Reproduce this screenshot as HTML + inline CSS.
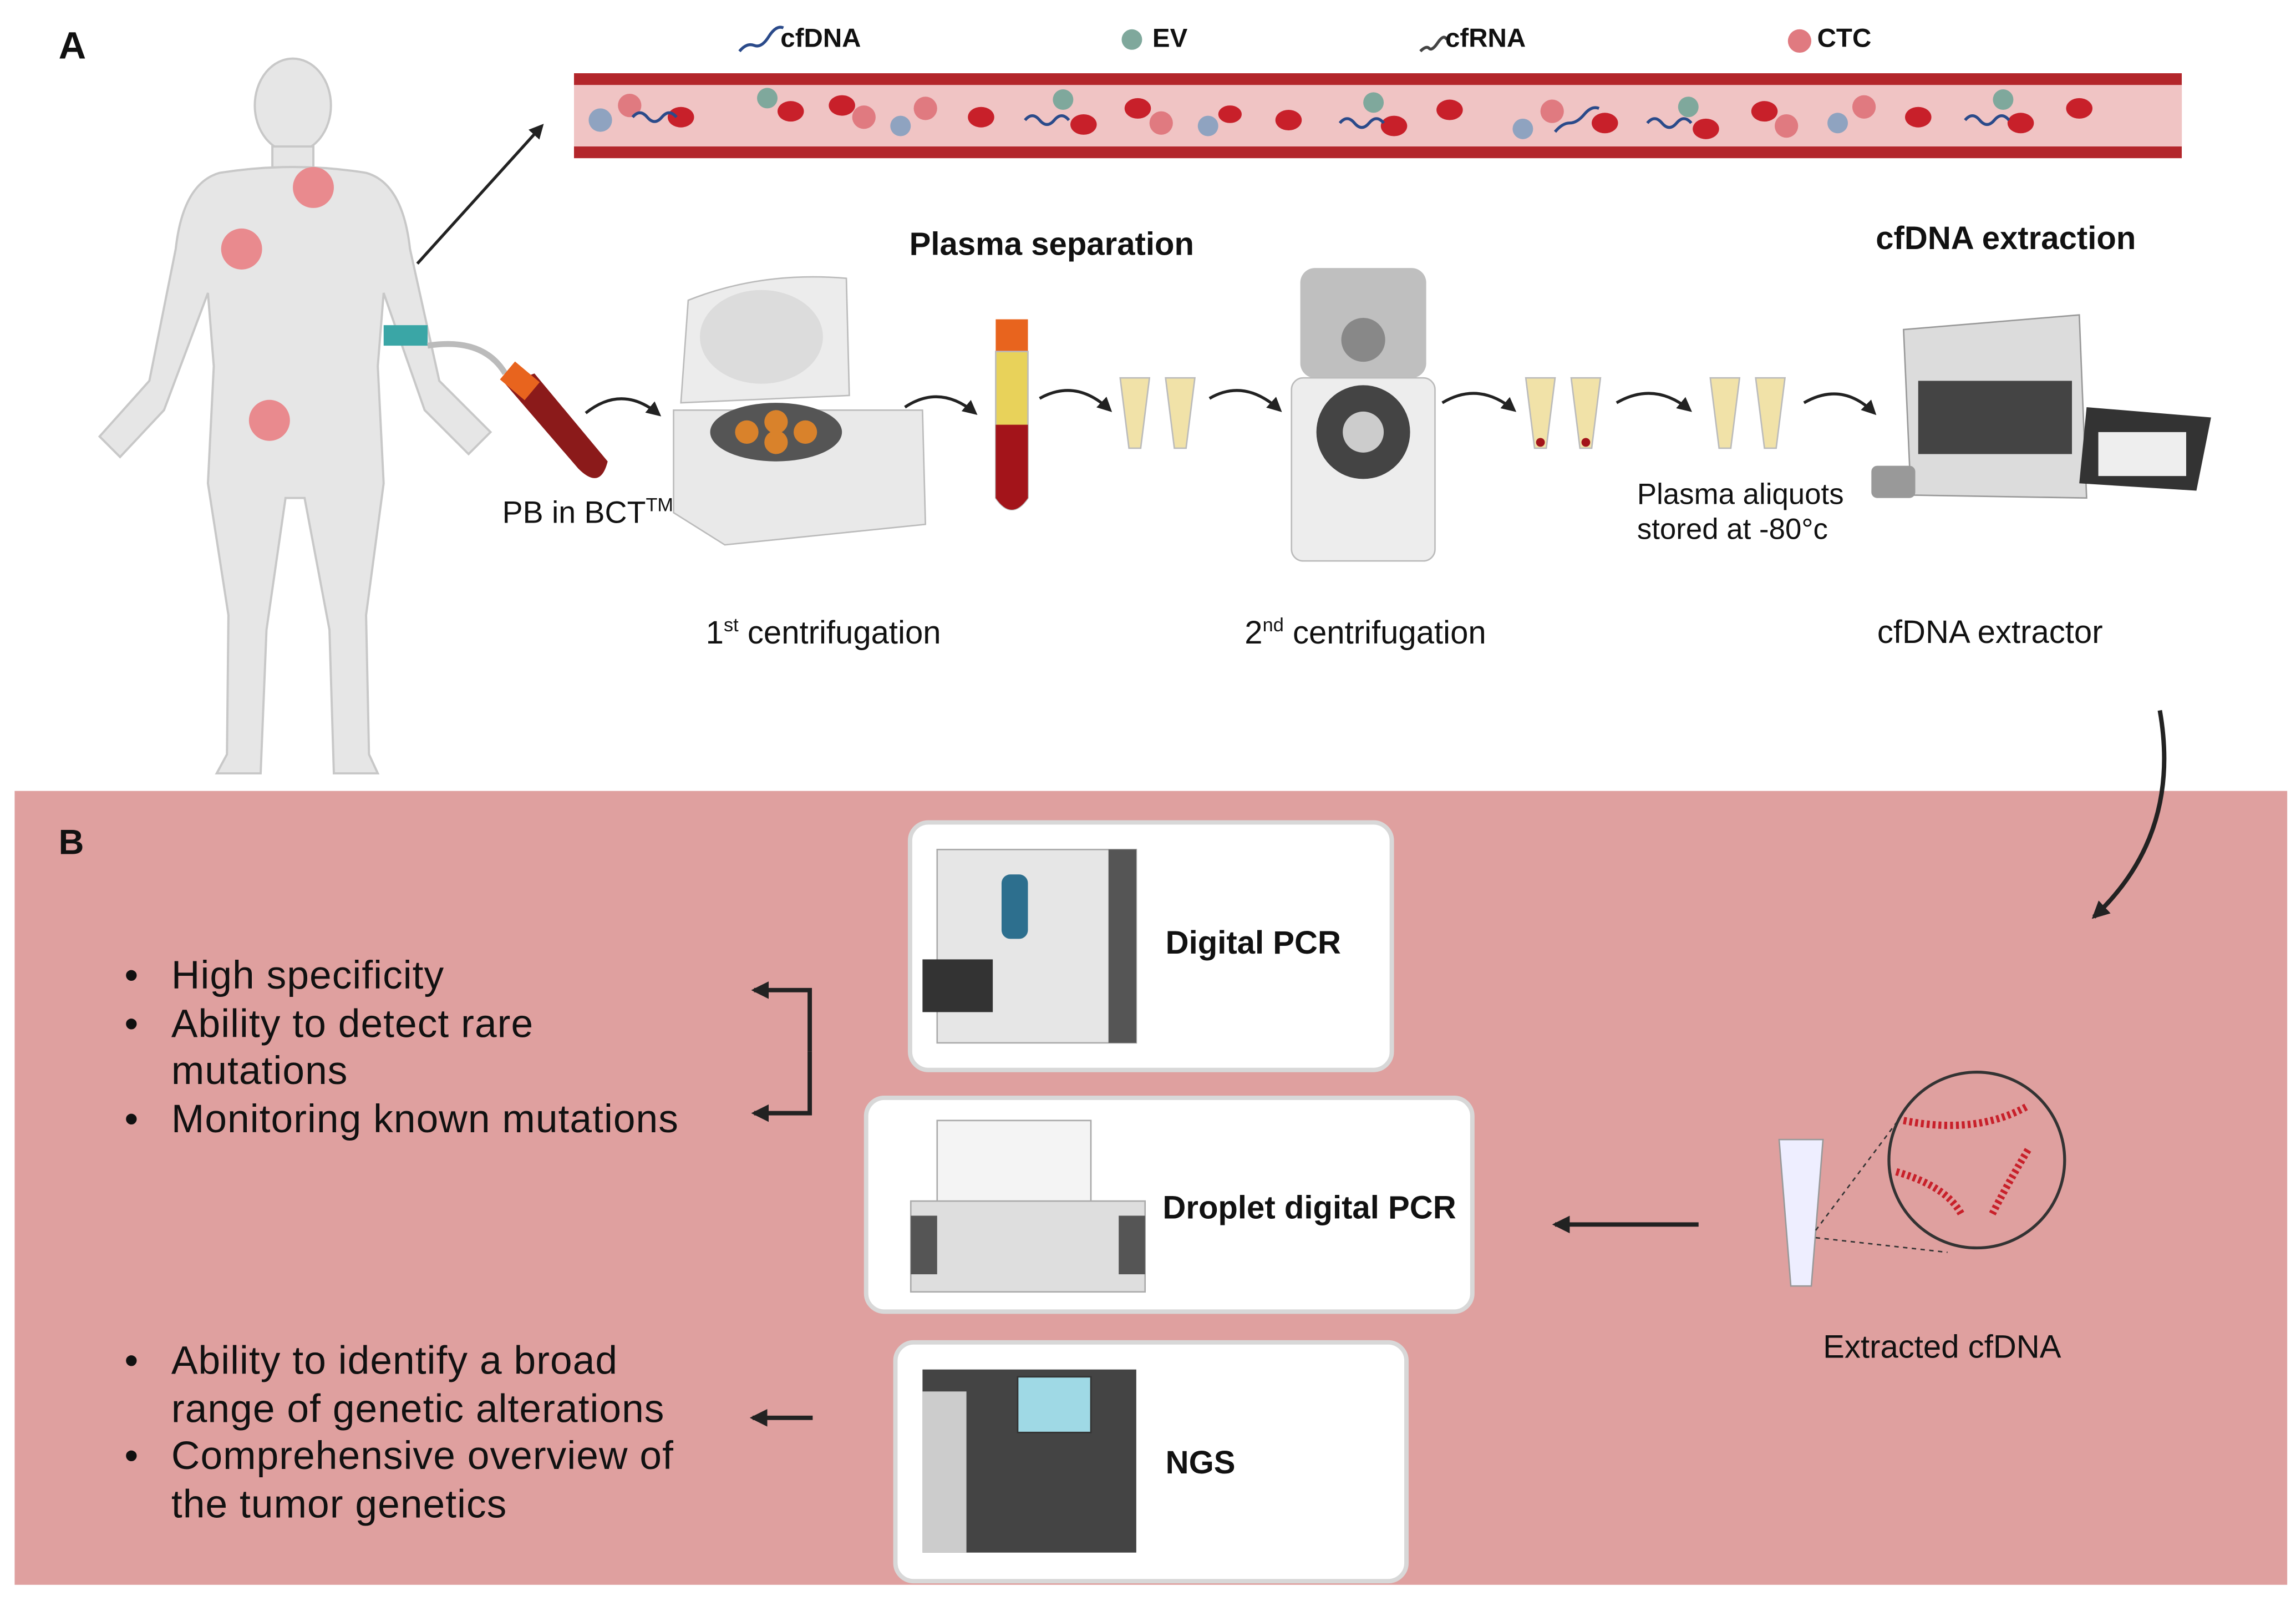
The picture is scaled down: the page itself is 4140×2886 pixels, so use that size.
<!DOCTYPE html>
<html><head><meta charset="utf-8"><style>
body{margin:0;background:#fff;width:4140px;height:2886px;overflow:hidden}
#w{position:absolute;left:0;top:0;width:1568px;height:1093px;transform:scale(2.6403);transform-origin:0 0;font-family:"Liberation Sans",sans-serif;color:#111}
.t{position:absolute;white-space:nowrap}
.b{font-weight:bold}
.box{position:absolute;background:#fff;border:3px solid #d8d8d8;border-radius:14px}
.bl{position:absolute;font-size:27px;line-height:32.5px;letter-spacing:0.4px;white-space:nowrap}
.bl div{position:relative;padding-left:32px}
.bl span{position:absolute;left:0}
</style></head><body><div id="w">
<div style="position:absolute;left:10px;top:540px;width:1552px;height:542px;background:#dfa09f"></div>
<div class="t b" style="left:40px;top:16px;font-size:26px">A</div>
<div class="t b" style="left:40px;top:562px;font-size:24px">B</div>
<svg width="1568" height="1093" style="position:absolute;left:0;top:0">
<defs><marker id="ar" markerUnits="userSpaceOnUse" markerWidth="14" markerHeight="14" refX="10" refY="7" orient="auto"><path d="M0,1L12,7L0,13z" fill="#222"/></marker>
<marker id="as" markerUnits="userSpaceOnUse" markerWidth="12" markerHeight="12" refX="8" refY="6" orient="auto"><path d="M0,1L10,6L0,11z" fill="#222"/></marker></defs>
<rect x="392" y="50" width="1098" height="58" fill="#b3262b"/>
<rect x="392" y="58" width="1098" height="42" fill="#f0c4c4"/>
<g fill="#c8202a">
<ellipse cx="465" cy="80" rx="9" ry="7"/><ellipse cx="540" cy="76" rx="9" ry="7"/><ellipse cx="575" cy="72" rx="9" ry="7"/><ellipse cx="670" cy="80" rx="9" ry="7"/><ellipse cx="740" cy="85" rx="9" ry="7"/><ellipse cx="777" cy="74" rx="9" ry="7"/><ellipse cx="880" cy="82" rx="9" ry="7"/><ellipse cx="952" cy="86" rx="9" ry="7"/><ellipse cx="990" cy="75" rx="9" ry="7"/><ellipse cx="1096" cy="84" rx="9" ry="7"/><ellipse cx="1165" cy="88" rx="9" ry="7"/><ellipse cx="1205" cy="76" rx="9" ry="7"/><ellipse cx="1310" cy="80" rx="9" ry="7"/><ellipse cx="1380" cy="84" rx="9" ry="7"/><ellipse cx="1420" cy="74" rx="9" ry="7"/><ellipse cx="840" cy="78" rx="8" ry="6"/>
</g>
<g fill="#e07a80"><circle cx="430" cy="72" r="8"/><circle cx="590" cy="80" r="8"/><circle cx="632" cy="74" r="8"/><circle cx="793" cy="84" r="8"/><circle cx="1060" cy="76" r="8"/><circle cx="1220" cy="86" r="8"/><circle cx="1273" cy="73" r="8"/></g>
<g fill="#8fa3c0"><circle cx="410" cy="82" r="8"/><circle cx="615" cy="86" r="7"/><circle cx="825" cy="86" r="7"/><circle cx="1040" cy="88" r="7"/><circle cx="1255" cy="84" r="7"/></g>
<g fill="#7fa89c"><circle cx="524" cy="67" r="7"/><circle cx="726" cy="68" r="7"/><circle cx="938" cy="70" r="7"/><circle cx="1153" cy="73" r="7"/><circle cx="1368" cy="68" r="7"/><circle cx="773" cy="27" r="7"/></g>
<g stroke="#2a4a8a" stroke-width="2" fill="none">
<path d="M432,80 q5,-6 10,0 t10,0 t10,0"/><path d="M700,82 q5,-6 10,0 t10,0 t10,0"/><path d="M915,84 q5,-6 10,0 t10,0 t10,0"/><path d="M1125,84 q5,-6 10,0 t10,0 t10,0"/><path d="M1342,82 q5,-6 10,0 t10,0 t10,0"/><path d="M505,35 q5,-6 10,-4 t10,-6 t10,-6"/><path d="M1062,90 q5,-6 10,-6 t10,-6 t10,-4"/>
<path d="M970,35 q4,-4 6,-2 t6,-4 t6,-2" stroke="#444"/>
</g>
<circle cx="1229" cy="28" r="8" fill="#e07a80"/>
<g fill="#e6e6e6" stroke="#c8c8c8" stroke-width="1.5">
<ellipse cx="200" cy="72" rx="26" ry="32"/>
<rect x="186" y="100" width="28" height="20"/>
<path d="M150,118 Q200,110 250,118 Q275,125 280,170 L300,260 L335,295 L320,310 L290,280 L262,200 L258,250 L262,330 L250,420 L252,515 L258,528 L228,528 L225,430 L208,340 L195,340 L182,430 L178,528 L148,528 L155,515 L156,420 L142,330 L146,250 L142,200 L112,280 L82,312 L68,298 L102,260 L120,170 Q125,125 150,118Z"/>
</g>
<g fill="#e98a8e"><circle cx="214" cy="128" r="14"/><circle cx="165" cy="170" r="14"/><circle cx="184" cy="287" r="14"/></g>
<line x1="285" y1="180" x2="370" y2="86" stroke="#222" stroke-width="2" marker-end="url(#as)"/>
<rect x="262" y="222" width="30" height="14" fill="#3aa6a6"/>
<path d="M292,236 Q330,230 345,255" stroke="#bbb" stroke-width="4" fill="none"/>
<path d="M345,262 L395,320 Q410,335 415,315 L365,255Z" fill="#8b1a1a"/>
<rect x="344" y="252" width="22" height="16" fill="#e8641e" transform="rotate(40 355 260)"/>
<path d="M465,275 L470,205 Q520,185 578,190 L580,270Z" fill="#ececec" stroke="#bbb"/>
<ellipse cx="520" cy="230" rx="42" ry="32" fill="#dcdcdc"/>
<path d="M460,280 L630,280 L632,358 L495,372 L460,350Z" fill="#e9e9e9" stroke="#bbb"/>
<ellipse cx="530" cy="295" rx="45" ry="20" fill="#555"/>
<g fill="#d9822b"><circle cx="510" cy="295" r="8"/><circle cx="530" cy="288" r="8"/><circle cx="550" cy="295" r="8"/><circle cx="530" cy="302" r="8"/></g>
<rect x="680" y="218" width="22" height="22" fill="#e8641e"/>
<path d="M680,240 L702,240 L702,340 Q691,356 680,340Z" fill="#e8d25a" stroke="#bbb"/>
<path d="M680,290 L702,290 L702,340 Q691,356 680,340Z" fill="#a3141a"/>
<g fill="#f1e2a8" stroke="#bbb">
<path d="M765,258 h20 l-6,48 h-8z"/><path d="M796,258 h20 l-6,48 h-8z"/>
<path d="M1042,258 h20 l-6,48 h-8z"/><path d="M1073,258 h20 l-6,48 h-8z"/>
<path d="M1168,258 h20 l-6,48 h-8z"/><path d="M1199,258 h20 l-6,48 h-8z"/>
</g>
<circle cx="1052" cy="302" r="3" fill="#a3141a"/><circle cx="1083" cy="302" r="3" fill="#a3141a"/>
<rect x="888" y="183" width="86" height="75" rx="10" fill="#bfbfbf"/>
<circle cx="931" cy="232" r="15" fill="#888"/>
<rect x="882" y="258" width="98" height="125" rx="8" fill="#ededed" stroke="#bbb"/>
<circle cx="931" cy="295" r="32" fill="#444"/><circle cx="931" cy="295" r="14" fill="#ccc"/>
<path d="M1300,225 L1420,215 L1425,340 L1305,338Z" fill="#dcdcdc" stroke="#999"/>
<rect x="1310" y="260" width="105" height="50" fill="#444"/>
<path d="M1425,278 L1510,285 L1500,335 L1420,330Z" fill="#333"/>
<rect x="1433" y="295" width="60" height="30" fill="#eee"/>
<rect x="1278" y="318" width="30" height="22" rx="4" fill="#999"/>
<g stroke="#222" stroke-width="2" fill="none" marker-end="url(#as)">
<path d="M400,282 Q425,262 450,283"/><path d="M618,278 Q642,262 666,282"/><path d="M710,272 Q735,258 758,280"/><path d="M826,272 Q850,258 874,280"/><path d="M985,275 Q1010,260 1034,280"/><path d="M1104,275 Q1130,260 1154,280"/><path d="M1232,275 Q1258,260 1280,282"/>
</g>
<g stroke="#222" stroke-width="3" fill="none" marker-end="url(#ar)">
<path d="M1475,485 Q1490,570 1430,626"/>
<path d="M553,718 V676 H515"/>
<path d="M553,718 V760 H515"/>
<line x1="1160" y1="836" x2="1062" y2="836"/>
<line x1="555" y1="968" x2="514" y2="968"/>
</g>
<path d="M1215,778 h30 l-8,100 h-14z" fill="#eef" stroke="#999"/>
<circle cx="1350" cy="792" r="60" fill="none" stroke="#333" stroke-width="2"/>
<line x1="1240" y1="840" x2="1300" y2="760" stroke="#333" stroke-dasharray="3,3"/>
<line x1="1240" y1="845" x2="1330" y2="855" stroke="#333" stroke-dasharray="3,3"/>
<g stroke="#c8202a" stroke-width="5" fill="none" stroke-dasharray="2,2"><path d="M1300,765 Q1350,775 1385,755"/><path d="M1295,800 Q1330,810 1340,830"/><path d="M1385,785 Q1370,810 1360,830"/></g>
</svg>
<div class="t" style="left:533px;top:16px;font-size:18px;font-weight:bold">cfDNA</div>
<div class="t" style="left:787px;top:16px;font-size:18px;font-weight:bold">EV</div>
<div class="t" style="left:987px;top:16px;font-size:18px;font-weight:bold">cfRNA</div>
<div class="t" style="left:1241px;top:16px;font-size:18px;font-weight:bold">CTC</div>
<div class="t b" style="left:621px;top:154px;font-size:22px">Plasma separation</div>
<div class="t b" style="left:1281px;top:150px;font-size:22px">cfDNA extraction</div>
<div class="t" style="left:343px;top:337px;font-size:21px">PB in BCT<sup style="font-size:13px">TM</sup></div>
<div class="t" style="left:482px;top:419px;font-size:22px">1<sup style="font-size:13px">st</sup> centrifugation</div>
<div class="t" style="left:850px;top:419px;font-size:22px">2<sup style="font-size:13px">nd</sup> centrifugation</div>
<div class="t" style="left:1282px;top:419px;font-size:22px">cfDNA extractor</div>
<div class="t" style="left:1118px;top:326px;font-size:20px;line-height:24px">Plasma aliquots<br>stored at -80°c</div>
<div class="box" style="left:620px;top:560px;width:326px;height:166px"></div>
<div class="box" style="left:590px;top:748px;width:411px;height:143px"></div>
<div class="box" style="left:610px;top:915px;width:346px;height:160px"></div>
<svg width="1568" height="1093" style="position:absolute;left:0;top:0">
<rect x="640" y="580" width="136" height="132" fill="#e6e6e6" stroke="#aaa"/><rect x="757" y="580" width="19" height="132" fill="#555"/>
<rect x="684" y="597" width="18" height="44" rx="6" fill="#2d6f8e"/><rect x="630" y="655" width="48" height="36" fill="#333"/>
<rect x="640" y="765" width="105" height="60" fill="#f4f4f4" stroke="#aaa"/>
<rect x="622" y="820" width="160" height="62" fill="#dedede" stroke="#aaa"/><rect x="622" y="830" width="18" height="40" fill="#555"/><rect x="764" y="830" width="18" height="40" fill="#555"/>
<rect x="630" y="935" width="146" height="125" fill="#444"/><rect x="630" y="950" width="30" height="110" fill="#ccc"/>
<rect x="695" y="940" width="50" height="38" fill="#9fd9e5" stroke="#333"/>
</svg>
<div class="t b" style="left:796px;top:631px;font-size:22px">Digital PCR</div>
<div class="t b" style="left:794px;top:812px;font-size:22px">Droplet digital PCR</div>
<div class="t b" style="left:796px;top:986px;font-size:22px">NGS</div>
<div class="t" style="left:1245px;top:907px;font-size:22px">Extracted cfDNA</div>
<div class="bl" style="left:85px;top:650px">
<div><span>•</span>High specificity</div>
<div><span>•</span>Ability to detect rare</div>
<div>mutations</div>
<div><span>•</span>Monitoring known mutations</div>
</div>
<div class="bl" style="left:85px;top:913px">
<div><span>•</span>Ability to identify a broad</div>
<div>range of genetic alterations</div>
<div><span>•</span>Comprehensive overview of</div>
<div>the tumor genetics</div>
</div>
</div></body></html>
